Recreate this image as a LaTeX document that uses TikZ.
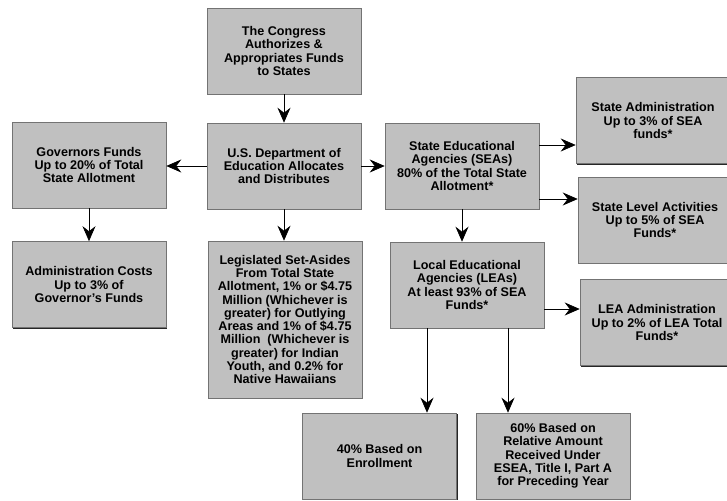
\documentclass[tikz,border=0pt]{standalone}
\usepackage{fontspec}
\setmainfont{Liberation Sans}
\usetikzlibrary{arrows.meta}
\usetikzlibrary{shadows}
\definecolor{boxgray}{HTML}{C0C0C0}
\tikzset{
    fundbox/.style={
        draw=black!55, line width=0.6pt, fill=boxgray,
        minimum width=154pt, minimum height=86pt, inner sep=0pt,
        align=center, font=\fontsize{12.6}{13.3}\selectfont\bfseries,
        drop shadow={shadow xshift=1.1pt, shadow yshift=-1.1pt, fill=black!85, opacity=1}
    },
    flow/.style={
        line width=0.7pt, -{Stealth[length=15pt,width=13pt,inset=5pt]}
    }
}

\begin{document}
\begin{tikzpicture}[x=1pt,y=-1pt]
    \path[use as bounding box, clip] (0,0) rectangle (727,500);

    \node[fundbox] (CONGRESS) at (284,51) {The Congress\\Authorizes \&\\Appropriates Funds\\to States};
    \node[fundbox] (DOE) at (284,166) {U.S. Department of\\Education Allocates\\and Distributes};
    \node[fundbox] (GOV) at (89,165) {Governors Funds\\Up to 20\% of Total\\State Allotment};
    \node[fundbox] (ADMIN) at (89,284.5) {Administration Costs\\Up to 3\% of\\Governor’s Funds};
    \node[fundbox, minimum height=157pt] (SETASIDE) at (285,319.5) {Legislated Set-Asides\\From Total State\\Allotment, 1\% or \$4.75\\Million (Whichever is\\greater) for Outlying\\Areas and 1\% of \$4.75\\Million~ (Whichever is\\greater) for Indian\\Youth, and 0.2\% for\\Native Hawaiians};

    \node[fundbox] (SEA) at (462,166) {State Educational\\Agencies (SEAs)\\80\% of the Total State\\Allotment*};
    \node[fundbox] (STADMIN) at (653,120.5) {State Administration\\Up to 3\% of SEA\\funds*};
    \node[fundbox] (STLEVEL) at (655,220) {State Level Activities\\Up to 5\% of SEA\\Funds*};
    \node[fundbox] (LEA) at (467,285) {Local Educational\\Agencies (LEAs)\\At least 93\% of SEA\\Funds*};
    \node[fundbox] (LEAADMIN) at (657,322.5) {LEA Administration\\Up to 2\% of LEA Total\\Funds*};

    \node[fundbox] (ENROLL) at (379.5,456) {40\% Based on\\Enrollment};
    \node[fundbox] (PRIOR) at (553,456) {60\% Based on\\Relative Amount\\Received Under\\ESEA, Title I, Part A\\for Preceding Year};

    \draw[flow] (CONGRESS.south) -- (CONGRESS.south |- DOE.north);
    \draw[flow] (DOE.west) -- (DOE.west -| GOV.east);
    \draw[flow] (DOE.east) -- (DOE.east -| SEA.west);
    \draw[flow] (GOV.south) -- (GOV.south |- ADMIN.north);
    \draw[flow] (DOE.south) -- (DOE.south |- SETASIDE.north);

    \draw[flow] ([yshift=21pt]SEA.east) -- ([yshift=21pt]SEA.east -| STADMIN.west);
    \draw[flow] ([yshift=-33pt]SEA.east) -- ([yshift=-33pt]SEA.east -| STLEVEL.west);
    \draw[flow] (SEA.south) -- (SEA.south |- LEA.north);

    \draw[flow] ([yshift=-24pt]LEA.east) -- ([yshift=-24pt]LEA.east -| LEAADMIN.west);
    \draw[flow] ([xshift=-40pt]LEA.south) -- ([xshift=-40pt]LEA.south |- ENROLL.north);
    \draw[flow] ([xshift=41pt]LEA.south) -- ([xshift=41pt]LEA.south |- PRIOR.north);
\end{tikzpicture}
\end{document}
